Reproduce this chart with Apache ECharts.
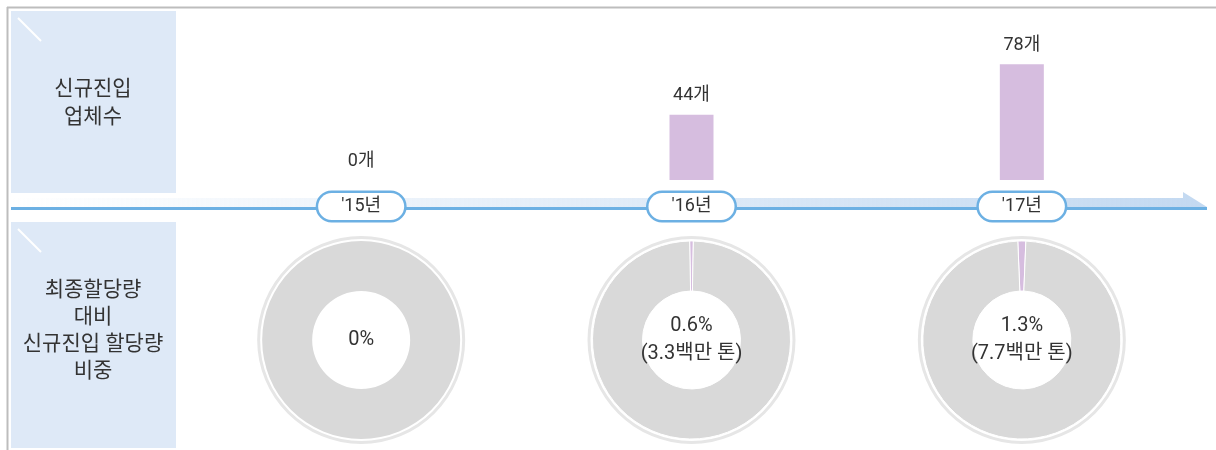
<!DOCTYPE html>
<html>
<head>
<meta charset="utf-8">
<script src="https://cdn.jsdelivr.net/npm/echarts@6/dist/echarts.min.js"></script>
<style>
  html, body { margin: 0; padding: 0; background: #fff; }
  #chart { width: 1216px; height: 450px; }
</style>
</head>
<body>
<div id="chart"></div>
<script>
// data
const years = ["'15년", "'16년", "'17년"]
const newCompanies = [0, 44, 78]          // 신규진입 업체수 (개)
const newShare = [0, 0.6, 1.3]            // 최종할당량 대비 신규진입 할당량 비중 (%)
const newTonnes = [null, 3.3, 7.7]        // 백만 톤
const rowTitles = ['신규진입\n업체수', '최종할당량\n대비\n신규진입 할당량\n비중']

const FONT = 'Roboto, "Noto Sans CJK KR", sans-serif'
const TEXT = '#333'
const BLUE = '#6cb0e3'
const PURPLE = '#d6bddf'
const GRAY = '#d9d9d9'

// layout
const gridLeft = 196
const gridWidth = 991
const band = gridWidth / years.length
const baseY = 180
const donutY = 340

const chart = echarts.init(document.getElementById('chart'))

const donuts = []
newShare.forEach((pct, i) => {
  const cx = gridLeft + band * (i + 0.5)
  const text = newTonnes[i] == null ? pct + '%' : pct + '%\n(' + newTonnes[i] + '백만 톤)'
  // thin outer ring
  donuts.push({
    type: 'pie',
    silent: true,
    center: [cx, donutY],
    radius: [101, 104],
    label: { show: false },
    itemStyle: { color: '#e6e6e6' },
    data: [1]
  })
  donuts.push({
    type: 'pie',
    silent: true,
    center: [cx, donutY],
    radius: [49, 99],
    startAngle: 90 + pct * 3.6 / 2,
    avoidLabelOverlap: false,
    itemStyle: { borderColor: '#fff', borderWidth: pct > 0 ? 1 : 0 },
    data: [
      { value: pct, itemStyle: { color: PURPLE }, label: { show: false } },
      {
        value: 100 - pct,
        itemStyle: { color: GRAY },
        label: {
          show: true,
          position: 'center',
          formatter: text,
          color: TEXT,
          fontSize: 20,
          lineHeight: 28,
          fontFamily: FONT
        }
      }
    ]
  })
})

const option = {
  animation: false,
  textStyle: { fontFamily: FONT },
  grid: { left: gridLeft, width: gridWidth, top: baseY - 148.5, height: 148.5 },
  xAxis: {
    type: 'category',
    data: years,
    z: 10,
    axisLine: { show: false },
    axisTick: { show: false },
    axisLabel: {
      margin: 13,
      color: TEXT,
      fontSize: 18,
      fontFamily: FONT,
      lineHeight: 19,
      width: 86,
      align: 'center',
      padding: [4, 0],
      backgroundColor: '#fff',
      borderColor: BLUE,
      borderWidth: 2.5,
      borderRadius: 15
    }
  },
  yAxis: { type: 'value', min: 0, max: 100, show: false },
  graphic: {
    elements: [
      { type: 'line', z: -10, shape: { x1: 7, y1: 7.5, x2: 1216, y2: 7.5 }, style: { stroke: '#bdbdbd', lineWidth: 2 } },
      { type: 'line', z: -10, shape: { x1: 7.5, y1: 7, x2: 7.5, y2: 450 }, style: { stroke: '#bdbdbd', lineWidth: 2 } },
      { type: 'rect', z: -10, shape: { x: 11, y: 11, width: 165, height: 182 }, style: { fill: '#dee9f7' } },
      { type: 'rect', z: -10, shape: { x: 11, y: 222, width: 165, height: 226 }, style: { fill: '#dee9f7' } },
      { type: 'line', z: -9, shape: { x1: 18, y1: 18, x2: 41, y2: 41 }, style: { stroke: '#fff', lineWidth: 2 } },
      { type: 'line', z: -9, shape: { x1: 18, y1: 229, x2: 41, y2: 252 }, style: { stroke: '#fff', lineWidth: 2 } },
      {
        type: 'text', z: -8, x: 93, y: 104,
        style: { text: rowTitles[0], fill: TEXT, font: '21px ' + FONT, lineHeight: 28, align: 'center', verticalAlign: 'middle' }
      },
      {
        type: 'text', z: -8, x: 93, y: 331,
        style: { text: rowTitles[1], fill: TEXT, font: '21px ' + FONT, lineHeight: 27, align: 'center', verticalAlign: 'middle' }
      },
      {
        type: 'polygon', z: -7,
        shape: { points: [[11, 198], [1183, 198], [1183, 192], [1207, 207], [11, 207]] },
        style: {
          fill: new echarts.graphic.LinearGradient(0, 0, 1, 0, [
            { offset: 0, color: 'rgba(195,217,241,0)' },
            { offset: 1, color: 'rgba(195,217,241,1)' }
          ])
        }
      },
      { type: 'rect', z: -6, shape: { x: 11, y: 207, width: 1196, height: 3 }, style: { fill: BLUE } }
    ]
  },
  series: [
    {
      type: 'bar',
      data: newCompanies,
      barWidth: 44,
      silent: true,
      itemStyle: { color: PURPLE },
      label: {
        show: true,
        position: 'top',
        distance: 10,
        formatter: '{c}개',
        color: TEXT,
        fontSize: 18,
        fontFamily: FONT
      }
    },
    ...donuts
  ]
}

chart.setOption(option)
</script>
</body>
</html>
